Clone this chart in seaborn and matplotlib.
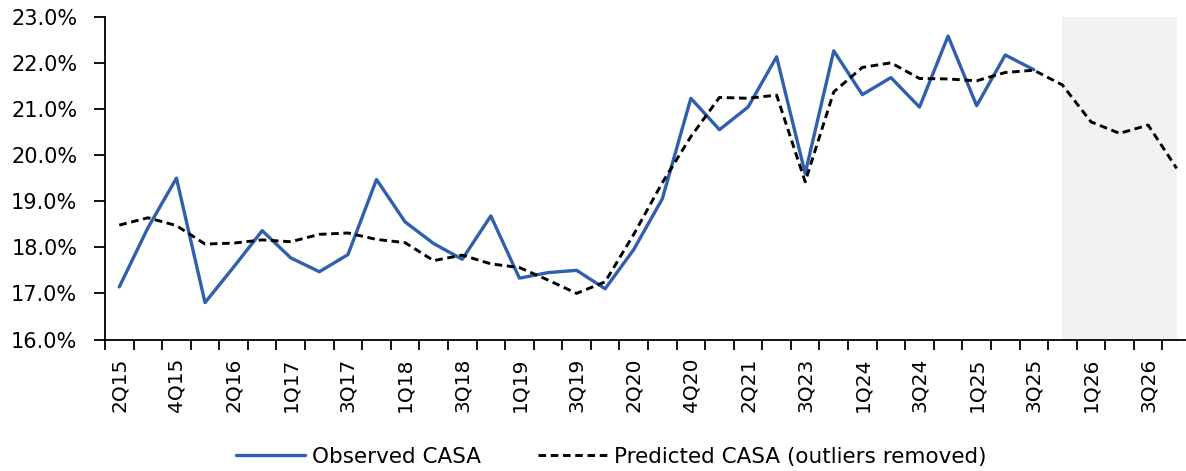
import matplotlib
matplotlib.use("Agg")
import matplotlib.pyplot as plt
import numpy as np
import pandas as pd
import seaborn as sns
from matplotlib.ticker import PercentFormatter

# quarters on the category axis (only every other one is labelled)
quarters = ['2Q15', '3Q15', '4Q15', '1Q16', '2Q16', '4Q16', '1Q17', '2Q17', '3Q17', '4Q17',
            '1Q18', '2Q18', '3Q18', '4Q18', '1Q19', '2Q19', '3Q19', '4Q19', '2Q20', '3Q20',
            '4Q20', '1Q21', '2Q21', '2Q23', '3Q23', '4Q23', '1Q24', '2Q24', '3Q24', '4Q24',
            '1Q25', '2Q25', '3Q25', '4Q25', '1Q26', '2Q26', '3Q26', '4Q26']

# CASA ratio, %
observed = [17.14, 18.42, 19.50, 16.80, 17.57, 18.36, 17.77, 17.47, 17.84, 19.47,
            18.55, 18.08, 17.74, 18.68, 17.33, 17.45, 17.50, 17.10, 17.95, 19.05,
            21.23, 20.55, 21.04, 22.13, 19.60, 22.26, 21.31, 21.68, 21.04, 22.58,
            21.07, 22.17, 21.85, np.nan, np.nan, np.nan, np.nan, np.nan]

predicted = [18.48, 18.64, 18.47, 18.07, 18.09, 18.16, 18.12, 18.28, 18.31, 18.17,
             18.10, 17.71, 17.83, 17.64, 17.56, 17.29, 17.00, 17.25, 18.28, 19.40,
             20.40, 21.25, 21.23, 21.30, 19.42, 21.37, 21.90, 22.00, 21.66, 21.65,
             21.61, 21.79, 21.84, 21.52, 20.72, 20.47, 20.65, 19.71]

forecast_from = '4Q25'
forecast_to = '4Q26'

sns.set_theme(style='ticks')
plt.rcParams['font.family'] = ['DejaVu Sans']
plt.rcParams['text.color'] = 'black'

W, H = 1186, 471
fig = plt.figure(figsize=(W / 100, H / 100), dpi=100)
ax = fig.add_axes([105 / W, 131.5 / H, 1086 / W, 322.8 / H])

df = pd.DataFrame({'quarter': quarters, 'pos': np.arange(len(quarters)),
                   'observed': observed, 'predicted': predicted})

ax.axvspan(quarters.index(forecast_from), quarters.index(forecast_to),
           color='#f2f2f2', lw=0, zorder=0)

sns.lineplot(data=df, x='pos', y='observed', ax=ax, color='#2f5fad', lw=2.4,
             label='Observed CASA')
sns.lineplot(data=df, x='pos', y='predicted', ax=ax, color='black', lw=2.1,
             linestyle=(0, (2.6, 1.6)), label='Predicted CASA (outliers removed)')

ax.set_xlim(-0.5, len(quarters) - 0.5)
ax.set_ylim(16, 23)
ax.set_yticks(np.arange(16, 23.5, 1))
ax.yaxis.set_major_formatter(PercentFormatter(decimals=1))

ax.set_xticks(df['pos'][::2])
ax.set_xticklabels(df['quarter'][::2], rotation=90)
ax.set_xticks(np.arange(-0.5, len(quarters), 1), minor=True)

ax.tick_params(axis='y', length=8, width=1.3, pad=12, labelsize=15, color='black', labelcolor='black')
ax.tick_params(axis='x', which='major', length=0, pad=13, labelsize=14.5, labelcolor='black')
ax.tick_params(axis='x', which='minor', length=7, width=1.3, color='black')

ax.set_xlabel('')
ax.set_ylabel('')
sns.despine(ax=ax)
for s in ['left', 'bottom']:
    ax.spines[s].set_color('black')
    ax.spines[s].set_linewidth(1.3)

handles, labels = ax.get_legend_handles_labels()
ax.get_legend().remove()
fig.legend(handles, labels, loc='center', bbox_to_anchor=(611 / W, 14 / H), ncol=2,
           frameon=False, fontsize=15.5, handlelength=3.2, handletextpad=0.33,
           columnspacing=2.65)

fig.savefig('out.png', dpi=100, facecolor='white')
